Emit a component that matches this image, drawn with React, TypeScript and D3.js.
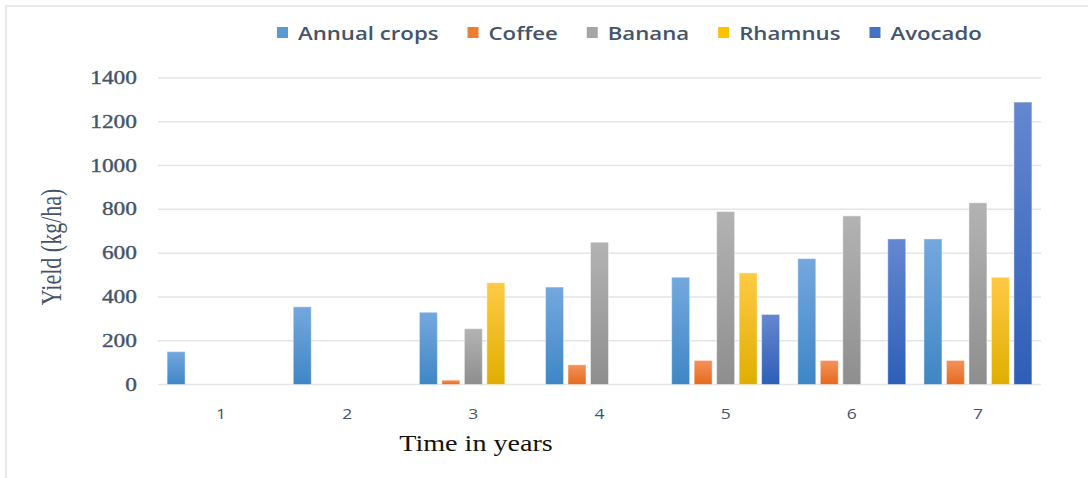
import { useEffect, useRef } from 'react';
import * as d3 from 'd3';

// chart data
const years = ['1', '2', '3', '4', '5', '6', '7'];
const seriesNames = ['Annual crops', 'Coffee', 'Banana', 'Rhamnus', 'Avocado'];
const annualCrops = [150, 355, 330, 445, 490, 575, 665];
const coffee = [0, 0, 20, 90, 110, 110, 110];
const banana = [0, 0, 255, 650, 790, 770, 830];
const rhamnus = [0, 0, 465, 0, 510, 0, 490];
const avocado = [0, 0, 0, 0, 320, 665, 1290];
const yTicks = [0, 200, 400, 600, 800, 1000, 1200, 1400];

const seriesValues = [annualCrops, coffee, banana, rhamnus, avocado];

// fill gradients (top -> bottom) and flat legend colours
const gradTop = ['#74a8de', '#f4925b', '#b3b3b3', '#ffca45', '#6587d0'];
const gradBottom = ['#3f86c5', '#e56a1d', '#8e8e8e', '#e0ae00', '#2e5eb8'];
const legendColors = ['#5b9bd5', '#ed7d31', '#a5a5a5', '#ffc000', '#4472c4'];

const width = 1088;
const height = 478;
const marginTop = 78;
const marginBottom = 93.5;
const marginLeft = 158;
const marginRight = 47;
const stretch = 1.25; // the source picture is widened horizontally
const legendStretch = 1.2;
const textColor = '#44546a';

function App() {
  const ref = useRef<SVGSVGElement>(null);

  useEffect(() => {
    document.body.style.margin = '0';
    const svg = d3.select(ref.current);
    svg.selectAll('*').remove();

    const x0 = d3.scaleBand<string>()
      .domain(years)
      .range([marginLeft, width - marginRight])
      .paddingInner(0.1086)
      .paddingOuter(0.0543);
    const x1 = d3.scaleBand<string>()
      .domain(seriesNames)
      .range([0, x0.bandwidth()])
      .paddingInner(0.2)
      .paddingOuter(0.1);
    const y = d3.scaleLinear()
      .domain([0, 1400])
      .range([height - marginBottom, marginTop]);

    const defs = svg.append('defs');
    seriesNames.forEach((_, i) => {
      const g = defs.append('linearGradient')
        .attr('id', `grad${i}`)
        .attr('x1', 0).attr('y1', 0).attr('x2', 0).attr('y2', 1);
      g.append('stop').attr('offset', '0%').attr('stop-color', gradTop[i]);
      g.append('stop').attr('offset', '100%').attr('stop-color', gradBottom[i]);
    });

    // outer frame (only top and left visible in the source)
    svg.append('path')
      .attr('d', `M6,${height} L6,6 L${width},6`)
      .attr('fill', 'none')
      .attr('stroke', '#e5e8ee')
      .attr('stroke-width', 2);

    // gridlines
    svg.append('g')
      .selectAll('line')
      .data(yTicks)
      .join('line')
      .attr('x1', marginLeft)
      .attr('x2', width - marginRight)
      .attr('y1', d => y(d))
      .attr('y2', d => y(d))
      .attr('stroke', '#e3e5e9')
      .attr('stroke-width', 1.5);

    // y tick labels
    svg.append('g')
      .selectAll('text')
      .data(yTicks)
      .join('text')
      .attr('transform', d => `translate(137,${y(d) + 6}) scale(1.3,1)`)
      .attr('text-anchor', 'end')
      .attr('font-family', '"Liberation Serif", serif')
      .attr('font-size', 18)
      .attr('fill', textColor)
      .attr('stroke', textColor)
      .attr('stroke-width', 0.35)
      .text(d => d);

    // bars
    const groups = svg.append('g')
      .selectAll('g')
      .data(years)
      .join('g')
      .attr('transform', d => `translate(${x0(d)},0)`);

    groups.selectAll('rect')
      .data((_, yi) => seriesNames.map((name, si) => ({ name, si, value: seriesValues[si][yi] })).filter(d => d.value > 0))
      .join('rect')
      .attr('x', d => x1(d.name)!)
      .attr('width', x1.bandwidth())
      .attr('y', d => y(d.value))
      .attr('height', d => y(0) - y(d.value))
      .attr('fill', d => `url(#grad${d.si})`)
      .attr('stroke', 'rgba(255,255,255,0.45)')
      .attr('stroke-width', 1);

    // x tick labels
    svg.append('g')
      .selectAll('text')
      .data(years)
      .join('text')
      .attr('transform', d => `translate(${x0(d)! + x0.bandwidth() / 2},419) scale(${stretch},1)`)
      .attr('text-anchor', 'middle')
      .attr('font-family', '"Open Sans", sans-serif')
      .attr('font-size', 14)
      .attr('fill', textColor)
      .text(d => d);

    // axis titles
    svg.append('text')
      .attr('transform', `translate(476,451) scale(${stretch},1)`)
      .attr('text-anchor', 'middle')
      .attr('font-family', '"Liberation Serif", serif')
      .attr('font-size', 22.5)
      .attr('fill', '#111')
      .text('Time in years');

    svg.append('text')
      .attr('transform', `translate(61,247) scale(1.35,1) rotate(-90)`)
      .attr('text-anchor', 'middle')
      .attr('font-family', '"Liberation Serif", serif')
      .attr('font-size', 22)
      .attr('fill', textColor)
      .text('Yield (kg/ha)');

    // legend, laid out by measured text widths
    const legend = svg.append('g');
    let cursor = 277;
    seriesNames.forEach((name, i) => {
      legend.append('rect')
        .attr('x', cursor)
        .attr('y', 27)
        .attr('width', 11)
        .attr('height', 11)
        .attr('fill', legendColors[i]);
      const t = legend.append('text')
        .attr('transform', `translate(${cursor + 21},40) scale(${legendStretch},1)`)
        .attr('font-family', '"Open Sans", sans-serif')
        .attr('font-size', 18.5)
        .attr('font-weight', 600)
        .attr('fill', textColor)
        .text(name);
      const w = (t.node() as SVGTextElement).getComputedTextLength() * legendStretch;
      cursor += 21 + w + 29;
    });
  }, []);

  return <svg ref={ref} width={width} height={height} style={{ display: 'block', background: '#fff' }} />;
}

export default App;
